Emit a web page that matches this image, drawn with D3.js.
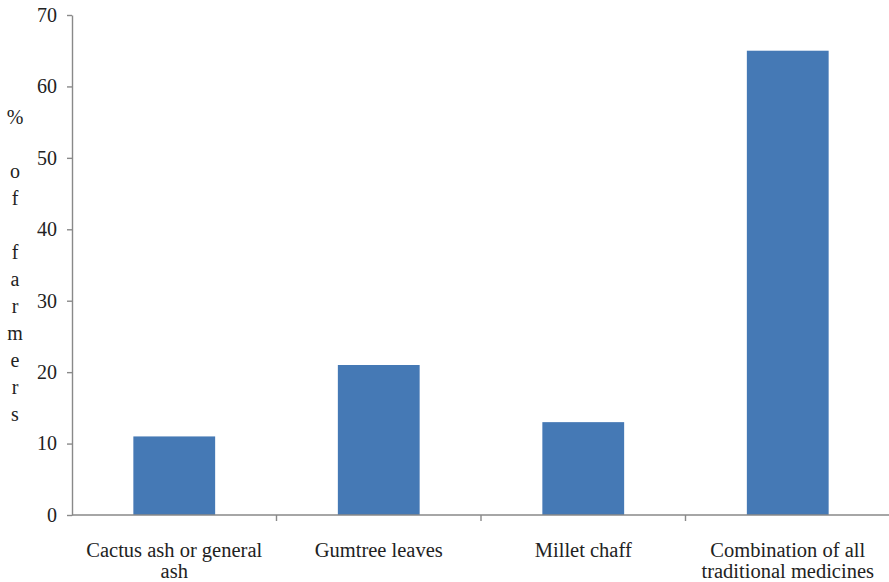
<!DOCTYPE html>
<html>
<head>
<meta charset="utf-8">
<script src="https://cdn.jsdelivr.net/npm/d3@7"></script>
<style>
  html, body { margin: 0; padding: 0; background: #fff; }
  svg { display: block; }
  svg text { font-family: "Liberation Serif", Tinos, "Times New Roman", Times, "Nimbus Roman", "DejaVu Serif", serif; fill: #222; }
</style>
</head>
<body>
<div id="chart"></div>
<script>
// Categories (each entry is the list of lines drawn under the axis)
const categories = [
  "Cactus ash or general ash",
  "Gumtree leaves",
  "Millet chaff",
  "Combination of all traditional medicines"
];
const categoryLines = [
  ["Cactus ash or general", "ash"],
  ["Gumtree leaves"],
  ["Millet chaff"],
  ["Combination of all", "traditional medicines"]
];
// Percentage of farmers using each remedy
const values = [11, 21, 13, 65];
// Y-axis ticks
const yTicks = [0, 10, 20, 30, 40, 50, 60, 70];
// Vertical y-axis title, one character per line ("" = empty line)
const yTitleLines = ["%", "", "o", "f", "", "f", "a", "r", "m", "e", "r", "s"];

const W = 889, H = 582;
const plotLeft = 72, plotRight = 890, plotTop = 15, plotBottom = 515;
const axisColor = "#898989";
const barColor = "#4579b5";
const serif = "'Liberation Serif', Tinos, 'Times New Roman', Times, 'Nimbus Roman', 'DejaVu Serif', serif";

const svg = d3.select("#chart").append("svg")
  .attr("width", W).attr("height", H)
  .attr("font-family", serif);

const x = d3.scaleBand()
  .domain(categories)
  .range([plotLeft, plotRight])
  .paddingInner(0.6)
  .paddingOuter(0.3);

const y = d3.scaleLinear()
  .domain([0, 70])
  .range([plotBottom, plotTop]);

// Bars
svg.append("g").selectAll("rect")
  .data(values)
  .join("rect")
  .attr("x", (d, i) => x(categories[i]))
  .attr("y", d => y(d))
  .attr("width", x.bandwidth())
  .attr("height", d => y(0) - y(d))
  .attr("fill", barColor);

// Y axis
const yAxis = svg.append("g")
  .attr("transform", `translate(${plotLeft},0)`)
  .call(d3.axisLeft(y).tickValues(yTicks).tickSize(5).tickPadding(10).tickSizeOuter(0))
  .attr("font-family", serif)
  .attr("font-size", 20);
yAxis.select(".domain").attr("stroke", axisColor).attr("stroke-width", 1.4);
yAxis.selectAll(".tick line").attr("stroke", axisColor).attr("stroke-width", 1.4);
yAxis.selectAll(".tick text").attr("fill", "#222");

// X axis: baseline with ticks on the category boundaries
const step = x.step();
const xBounds = d3.range(categories.length + 1).map(i => plotLeft + i * step);
svg.append("line")
  .attr("x1", plotLeft).attr("x2", plotRight)
  .attr("y1", y(0)).attr("y2", y(0))
  .attr("stroke", axisColor).attr("stroke-width", 1.4);
svg.append("g").selectAll("line")
  .data(xBounds.slice(1))
  .join("line")
  .attr("x1", d => d).attr("x2", d => d)
  .attr("y1", y(0)).attr("y2", y(0) + 6)
  .attr("stroke", axisColor).attr("stroke-width", 1.4);

// Category labels
const labelG = svg.append("g");
categories.forEach((c, i) => {
  const cx = x(c) + x.bandwidth() / 2;
  const t = labelG.append("text")
    .attr("x", cx)
    .attr("y", 557)
    .attr("text-anchor", "middle")
    .attr("font-size", 20.5);
  categoryLines[i].forEach((line, j) => {
    t.append("tspan")
      .attr("x", cx)
      .attr("dy", j === 0 ? 0 : 21)
      .text(line);
  });
});

// Vertical y-axis title
svg.append("g").selectAll("text")
  .data(yTitleLines)
  .join("text")
  .attr("x", 15)
  .attr("y", (d, i) => 124 + i * 27)
  .attr("text-anchor", "middle")
  .attr("font-size", 20)
  .text(d => d);
</script>
</body>
</html>
